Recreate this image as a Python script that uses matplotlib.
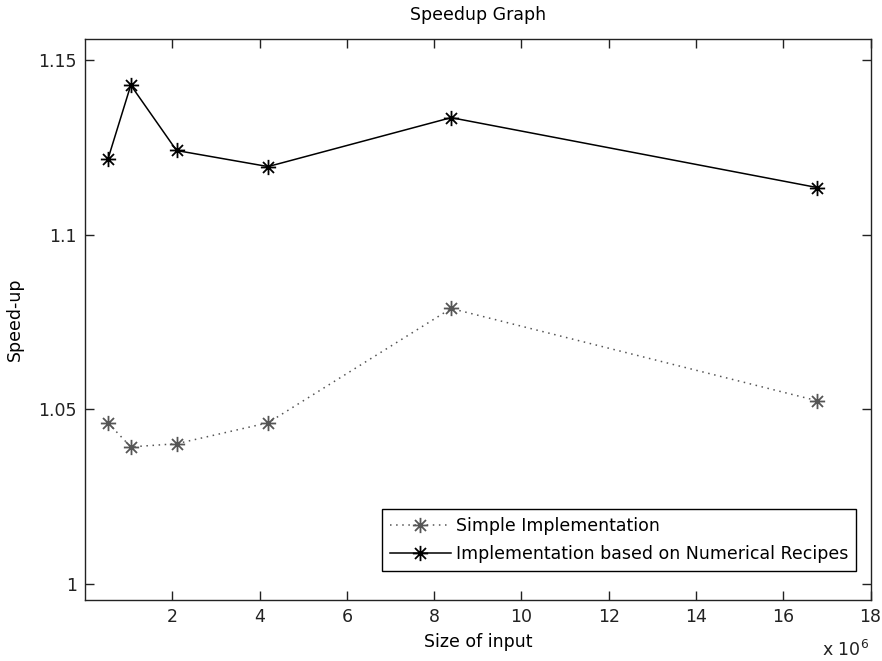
import matplotlib
matplotlib.use("Agg")
import matplotlib.pyplot as plt
from matplotlib.path import Path

plt.rcParams['font.family'] = ['DejaVu Sans']

# input sizes (2^19 .. 2^24)
sizes = [524288, 1048576, 2097152, 4194304, 8388608, 16777216]
simple_speedup = [1.0462, 1.0393, 1.0402, 1.0462, 1.0789, 1.0525]
recipes_speedup = [1.1216, 1.1428, 1.1241, 1.1195, 1.1335, 1.1135]

x_ticks = [2, 4, 6, 8, 10, 12, 14, 16, 18]
y_ticks = [1.0, 1.05, 1.1, 1.15]
y_labels = ["1", "1.05", "1.1", "1.15"]

# matlab style asterisk: a "+" with a slightly shorter "x" on top
d = 0.72
asterisk = Path(
    [(0, -1), (0, 1), (-1, 0), (1, 0), (-d, -d), (d, d), (-d, d), (d, -d)],
    [Path.MOVETO, Path.LINETO] * 4)

FS = 12.5

fig = plt.figure(figsize=(8.82, 6.61), dpi=100)
ax = fig.add_axes([0.0964, 0.0923, 0.8906, 0.8487])

xs = [s / 1e6 for s in sizes]
ax.plot(xs, simple_speedup, linestyle=(0, (1, 3)), color='#555555', marker=asterisk,
        markersize=11, markeredgewidth=1.3, linewidth=1.1,
        label="Simple Implementation")
ax.plot(xs, recipes_speedup, linestyle='-', color='black', marker=asterisk,
        markersize=11, markeredgewidth=1.3, linewidth=1.1,
        label="Implementation based on Numerical Recipes")

ax.set_xlim(0, 18)
ax.set_ylim(0.9955, 1.156)
ax.set_xticks(x_ticks)
ax.set_xticklabels([str(t) for t in x_ticks])
ax.set_yticks(y_ticks)
ax.set_yticklabels(y_labels)

ax.tick_params(direction='in', top=True, right=True, length=6.5, width=1,
               labelsize=FS, colors='#222222', pad=6)
for sp in ax.spines.values():
    sp.set_linewidth(1.0)
    sp.set_color('#222222')

ax.set_title("Speedup Graph", fontsize=FS, pad=14)
ax.set_xlabel("Size of input", fontsize=FS, labelpad=5)
ax.set_ylabel("Speed-up", fontsize=FS, labelpad=10)
fig.text(869 / 882, 0.002, r"x 10$^6$", fontsize=FS, ha='right', va='bottom',
         color='#222222')

leg = ax.legend(loc='lower right', bbox_to_anchor=(0.9815, 0.0517), fontsize=FS,
                fancybox=False, framealpha=1, edgecolor='black',
                handlelength=3.5, handletextpad=0.3, borderpad=0.45,
                labelspacing=0.6, borderaxespad=0)
leg.get_frame().set_linewidth(1.0)

fig.savefig("out.png", dpi=100)
